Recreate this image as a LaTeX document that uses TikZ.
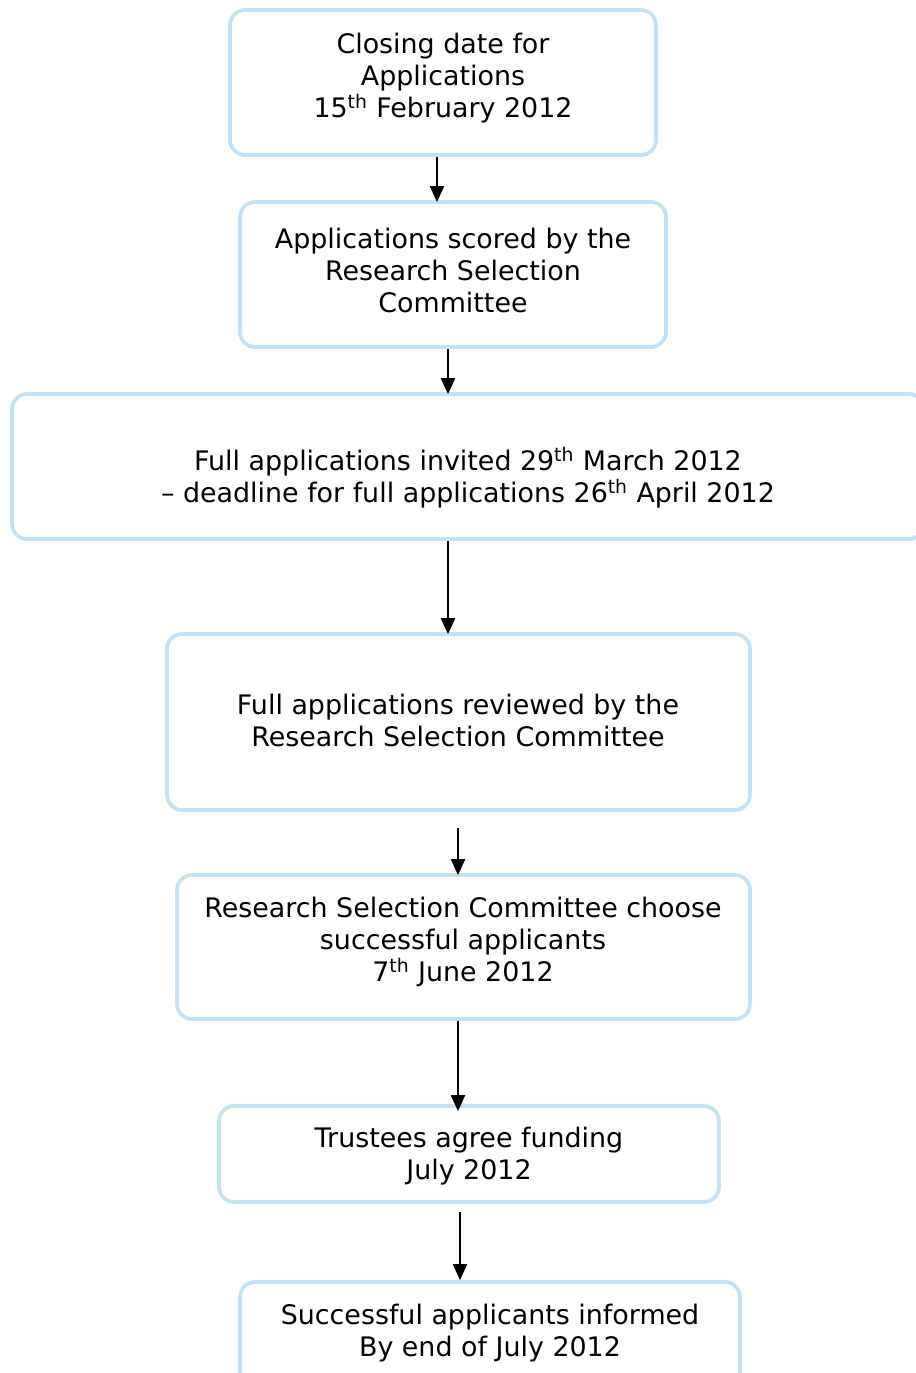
\documentclass[tikz,border=0pt]{standalone}
\usepackage{fontspec}
\setmainfont{DejaVu Sans}
\usetikzlibrary{arrows.meta}
\definecolor{boxblue}{RGB}{196,225,245}
\tikzset{
  box/.style={rectangle, draw=boxblue, line width=0.075cm, rounded corners=0.3cm, inner sep=0pt},
  txt/.style={align=center, inner sep=0pt, font=\fontsize{15.3pt}{18.2pt}\selectfont},
  arr/.style={-{Triangle[width=0.28cm,length=0.32cm]}, line width=0.04cm}
}
\begin{document}
\begin{tikzpicture}[x=0.02cm, y=-0.02cm]
\useasboundingbox (0,0) rectangle (916,1373);
\clip (0,0) rectangle (916,1373);

% boxes
\node (b1) at (443, 82.5) [box, minimum width=8.52cm, minimum height=2.9cm] {};
\node (b2) at (453, 274.5) [box, minimum width=8.52cm, minimum height=2.9cm] {};
\node (b3) at (468, 466.5) [box, minimum width=18.24cm, minimum height=2.9cm] {};
\node (b4) at (458.5, 722) [box, minimum width=11.66cm, minimum height=3.52cm] {};
\node (b5) at (463.5, 947) [box, minimum width=11.46cm, minimum height=2.88cm] {};
\node (b6) at (469, 1154) [box, minimum width=10cm, minimum height=1.92cm] {};
\node (b7) at (490, 1341) [box, minimum width=10cm, minimum height=2.36cm] {};

% texts
\node (t1) at (443, 78) [txt] {Closing date for\\Applications\\15\textsuperscript{th} February 2012};
\node (t2) at (453, 270) [txt] {Applications scored by the\\Research Selection\\Committee};
\node (t3) at (468, 478) [txt] {Full applications invited 29\textsuperscript{th} March 2012\\– deadline for full applications 26\textsuperscript{th} April 2012};
\node (t4) at (458, 720) [txt] {Full applications reviewed by the\\Research Selection Committee};
\node (t5) at (463, 942) [txt] {Research Selection Committee choose\\successful applicants\\7\textsuperscript{th} June 2012};
\node (t6) at (469, 1156) [txt] {Trustees agree funding\\July 2012};
\node (t7) at (490, 1333) [txt] {Successful applicants informed\\By end of July 2012};

% arrows
\draw[arr] (b1.south -| 437,0) -- ([yshift=-0.04cm]b2.north -| 437,0);
\draw[arr] (b2.south -| 448,0) -- ([yshift=-0.04cm]b3.north -| 448,0);
\draw[arr] (b3.south -| 448,0) -- ([yshift=-0.04cm]b4.north -| 448,0);
\draw[arr] ([yshift=-0.32cm]b4.south -| 458,0) -- ([yshift=-0.04cm]b5.north -| 458,0);
\draw[arr] (b5.south -| 458,0) -- ([yshift=-0.14cm]b6.north -| 458,0);
\draw[arr] ([yshift=-0.16cm]b6.south -| 460,0) -- (b7.north -| 460,0);

\end{tikzpicture}
\end{document}
